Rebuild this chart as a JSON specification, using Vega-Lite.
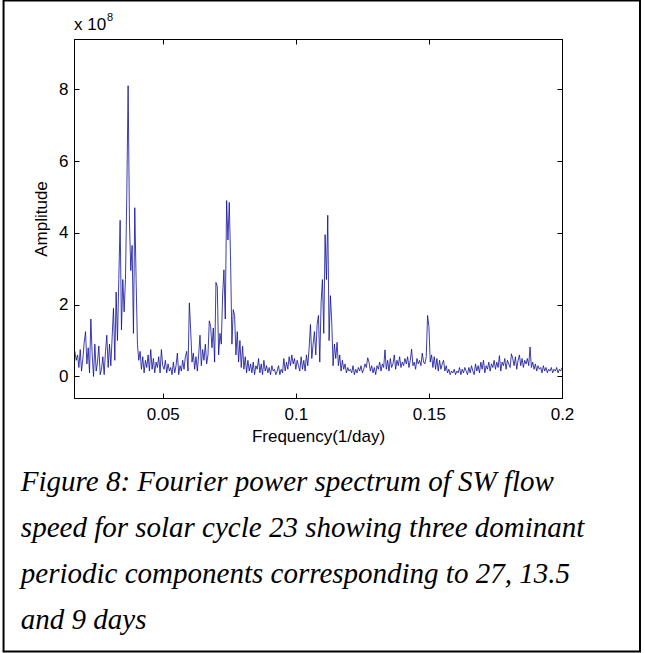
{
  "$schema": "https://vega.github.io/schema/vega-lite/v6.json",
  "autosize": "none",
  "width": 488,
  "height": 359,
  "padding": {"left": 74, "top": 39, "right": 83, "bottom": 255},
  "background": "white",
  "config": {
    "view": {"stroke": "black", "strokeWidth": 1},
    "font": "Liberation Sans"
  },
  "datasets": {
    "caption": [{"text": ["Figure 8: Fourier power spectrum of SW flow", "speed for solar cycle 23 showing three dominant", "periodic components corresponding to 27, 13.5", "and 9 days"]}],
    "spectrum": [
{"f":0.0170,"a":0.70},{"f":0.0175,"a":0.45},{"f":0.0180,"a":0.60},{"f":0.0185,"a":0.25},{"f":0.0190,"a":0.75},{"f":0.0195,"a":0.15},{"f":0.0200,"a":0.50},{"f":0.0205,"a":0.95},{"f":0.0210,"a":1.25},{"f":0.0215,"a":0.35},
{"f":0.0220,"a":0.80},{"f":0.0225,"a":0.10},{"f":0.0230,"a":1.60},{"f":0.0235,"a":0.60},{"f":0.0240,"a":0.00},{"f":0.0245,"a":0.90},{"f":0.0250,"a":0.15},{"f":0.0255,"a":0.40},{"f":0.0260,"a":0.85},{"f":0.0265,"a":0.05},
{"f":0.0270,"a":0.20},{"f":0.0275,"a":0.55},{"f":0.0280,"a":0.05},{"f":0.0285,"a":0.70},{"f":0.0290,"a":1.15},{"f":0.0295,"a":0.25},{"f":0.0300,"a":0.90},{"f":0.0305,"a":0.30},{"f":0.0310,"a":1.10},{"f":0.0315,"a":1.90},
{"f":0.0320,"a":0.45},{"f":0.0325,"a":2.35},{"f":0.0330,"a":1.00},{"f":0.0335,"a":2.70},{"f":0.0340,"a":4.35},{"f":0.0345,"a":1.30},{"f":0.0350,"a":2.70},{"f":0.0355,"a":1.80},{"f":0.0360,"a":2.70},{"f":0.0365,"a":5.05},
{"f":0.0370,"a":8.10},{"f":0.0375,"a":4.30},{"f":0.0380,"a":2.95},{"f":0.0385,"a":3.65},{"f":0.0390,"a":1.20},{"f":0.0395,"a":4.70},{"f":0.0400,"a":2.70},{"f":0.0405,"a":0.90},{"f":0.0410,"a":0.45},{"f":0.0415,"a":0.70},
{"f":0.0420,"a":0.20},{"f":0.0425,"a":0.55},{"f":0.0430,"a":0.10},{"f":0.0435,"a":0.45},{"f":0.0440,"a":0.25},{"f":0.0445,"a":0.60},{"f":0.0450,"a":0.15},{"f":0.0455,"a":0.75},{"f":0.0460,"a":0.20},{"f":0.0465,"a":0.50},
{"f":0.0470,"a":0.10},{"f":0.0475,"a":0.40},{"f":0.0480,"a":0.25},{"f":0.0485,"a":0.55},{"f":0.0490,"a":0.10},{"f":0.0495,"a":0.75},{"f":0.0500,"a":0.30},{"f":0.0505,"a":0.20},{"f":0.0510,"a":0.45},{"f":0.0515,"a":0.10},
{"f":0.0520,"a":0.35},{"f":0.0525,"a":0.15},{"f":0.0530,"a":0.25},{"f":0.0535,"a":0.05},{"f":0.0540,"a":0.40},{"f":0.0545,"a":0.10},{"f":0.0550,"a":0.30},{"f":0.0555,"a":0.65},{"f":0.0560,"a":0.05},{"f":0.0565,"a":0.30},
{"f":0.0570,"a":0.15},{"f":0.0575,"a":0.45},{"f":0.0580,"a":0.20},{"f":0.0585,"a":0.55},{"f":0.0590,"a":0.70},{"f":0.0595,"a":0.15},{"f":0.0600,"a":2.05},{"f":0.0605,"a":1.30},{"f":0.0610,"a":0.40},{"f":0.0615,"a":0.65},
{"f":0.0620,"a":0.20},{"f":0.0625,"a":0.55},{"f":0.0630,"a":0.15},{"f":0.0635,"a":0.60},{"f":0.0640,"a":1.15},{"f":0.0645,"a":0.30},{"f":0.0650,"a":0.75},{"f":0.0655,"a":0.45},{"f":0.0660,"a":0.90},{"f":0.0665,"a":0.35},
{"f":0.0670,"a":0.60},{"f":0.0675,"a":1.55},{"f":0.0680,"a":1.40},{"f":0.0685,"a":0.80},{"f":0.0690,"a":1.35},{"f":0.0695,"a":0.40},{"f":0.0700,"a":2.62},{"f":0.0705,"a":2.50},{"f":0.0710,"a":0.60},{"f":0.0715,"a":1.20},
{"f":0.0720,"a":0.90},{"f":0.0725,"a":2.27},{"f":0.0730,"a":2.97},{"f":0.0735,"a":1.60},{"f":0.0740,"a":4.90},{"f":0.0745,"a":3.80},{"f":0.0750,"a":4.85},{"f":0.0755,"a":3.20},{"f":0.0760,"a":0.90},{"f":0.0765,"a":1.86},
{"f":0.0770,"a":1.70},{"f":0.0775,"a":0.60},{"f":0.0780,"a":1.25},{"f":0.0785,"a":0.40},{"f":0.0790,"a":1.00},{"f":0.0795,"a":0.25},{"f":0.0800,"a":0.84},{"f":0.0805,"a":0.20},{"f":0.0810,"a":0.55},{"f":0.0815,"a":0.10},
{"f":0.0820,"a":0.45},{"f":0.0825,"a":0.15},{"f":0.0830,"a":0.35},{"f":0.0835,"a":0.10},{"f":0.0840,"a":0.40},{"f":0.0845,"a":0.05},{"f":0.0850,"a":0.30},{"f":0.0855,"a":0.20},{"f":0.0860,"a":0.50},{"f":0.0865,"a":0.10},
{"f":0.0870,"a":0.35},{"f":0.0875,"a":0.05},{"f":0.0880,"a":0.45},{"f":0.0885,"a":0.15},{"f":0.0890,"a":0.30},{"f":0.0895,"a":0.10},{"f":0.0900,"a":0.25},{"f":0.0905,"a":0.05},{"f":0.0910,"a":0.30},{"f":0.0915,"a":0.15},
{"f":0.0920,"a":0.20},{"f":0.0925,"a":0.05},{"f":0.0930,"a":0.15},{"f":0.0935,"a":0.30},{"f":0.0940,"a":0.05},{"f":0.0945,"a":0.20},{"f":0.0950,"a":0.10},{"f":0.0955,"a":0.50},{"f":0.0960,"a":0.15},{"f":0.0965,"a":0.40},
{"f":0.0970,"a":0.20},{"f":0.0975,"a":0.55},{"f":0.0980,"a":0.30},{"f":0.0985,"a":0.60},{"f":0.0990,"a":0.35},{"f":0.0995,"a":0.50},{"f":0.1000,"a":0.20},{"f":0.1005,"a":0.45},{"f":0.1010,"a":0.30},{"f":0.1015,"a":0.15},
{"f":0.1020,"a":0.55},{"f":0.1025,"a":0.20},{"f":0.1030,"a":0.45},{"f":0.1035,"a":0.15},{"f":0.1040,"a":0.60},{"f":0.1045,"a":0.30},{"f":0.1050,"a":0.80},{"f":0.1055,"a":1.45},{"f":0.1060,"a":0.50},{"f":0.1065,"a":0.90},
{"f":0.1070,"a":1.25},{"f":0.1075,"a":0.60},{"f":0.1080,"a":1.45},{"f":0.1085,"a":1.70},{"f":0.1090,"a":0.40},{"f":0.1095,"a":2.05},{"f":0.1100,"a":2.70},{"f":0.1105,"a":1.20},{"f":0.1110,"a":3.95},{"f":0.1115,"a":2.70},
{"f":0.1120,"a":4.49},{"f":0.1125,"a":1.00},{"f":0.1130,"a":2.25},{"f":0.1135,"a":1.50},{"f":0.1140,"a":0.30},{"f":0.1145,"a":0.90},{"f":0.1150,"a":0.50},{"f":0.1155,"a":0.95},{"f":0.1160,"a":0.30},{"f":0.1165,"a":0.60},
{"f":0.1170,"a":0.15},{"f":0.1175,"a":0.45},{"f":0.1180,"a":0.20},{"f":0.1185,"a":0.35},{"f":0.1190,"a":0.10},{"f":0.1195,"a":0.25},{"f":0.1200,"a":0.15},{"f":0.1205,"a":0.20},{"f":0.1210,"a":0.10},{"f":0.1215,"a":0.30},
{"f":0.1220,"a":0.05},{"f":0.1225,"a":0.20},{"f":0.1230,"a":0.10},{"f":0.1235,"a":0.25},{"f":0.1240,"a":0.15},{"f":0.1245,"a":0.30},{"f":0.1250,"a":0.10},{"f":0.1255,"a":0.20},{"f":0.1260,"a":0.35},{"f":0.1265,"a":0.25},
{"f":0.1270,"a":0.52},{"f":0.1275,"a":0.40},{"f":0.1280,"a":0.15},{"f":0.1285,"a":0.30},{"f":0.1290,"a":0.10},{"f":0.1295,"a":0.25},{"f":0.1300,"a":0.05},{"f":0.1305,"a":0.30},{"f":0.1310,"a":0.20},{"f":0.1315,"a":0.40},
{"f":0.1320,"a":0.15},{"f":0.1325,"a":0.35},{"f":0.1330,"a":0.25},{"f":0.1335,"a":0.74},{"f":0.1340,"a":0.20},{"f":0.1345,"a":0.45},{"f":0.1350,"a":0.15},{"f":0.1355,"a":0.50},{"f":0.1360,"a":0.25},{"f":0.1365,"a":0.35},
{"f":0.1370,"a":0.60},{"f":0.1375,"a":0.20},{"f":0.1380,"a":0.45},{"f":0.1385,"a":0.30},{"f":0.1390,"a":0.55},{"f":0.1395,"a":0.25},{"f":0.1400,"a":0.40},{"f":0.1405,"a":0.30},{"f":0.1410,"a":0.50},{"f":0.1415,"a":0.35},
{"f":0.1420,"a":0.55},{"f":0.1425,"a":0.25},{"f":0.1430,"a":0.45},{"f":0.1435,"a":0.76},{"f":0.1440,"a":0.30},{"f":0.1445,"a":0.40},{"f":0.1450,"a":0.20},{"f":0.1455,"a":0.50},{"f":0.1460,"a":0.35},{"f":0.1465,"a":0.45},
{"f":0.1470,"a":0.30},{"f":0.1475,"a":0.65},{"f":0.1480,"a":0.40},{"f":0.1485,"a":0.35},{"f":0.1490,"a":0.55},{"f":0.1495,"a":1.70},{"f":0.1500,"a":1.39},{"f":0.1505,"a":0.40},{"f":0.1510,"a":0.60},{"f":0.1515,"a":0.25},
{"f":0.1520,"a":0.55},{"f":0.1525,"a":0.20},{"f":0.1530,"a":0.50},{"f":0.1535,"a":0.15},{"f":0.1540,"a":0.45},{"f":0.1545,"a":0.20},{"f":0.1550,"a":0.35},{"f":0.1555,"a":0.45},{"f":0.1560,"a":0.15},{"f":0.1565,"a":0.30},
{"f":0.1570,"a":0.10},{"f":0.1575,"a":0.20},{"f":0.1580,"a":0.05},{"f":0.1585,"a":0.15},{"f":0.1590,"a":0.10},{"f":0.1595,"a":0.20},{"f":0.1600,"a":0.05},{"f":0.1605,"a":0.15},{"f":0.1610,"a":0.10},{"f":0.1615,"a":0.25},
{"f":0.1620,"a":0.05},{"f":0.1625,"a":0.20},{"f":0.1630,"a":0.10},{"f":0.1635,"a":0.25},{"f":0.1640,"a":0.15},{"f":0.1645,"a":0.05},{"f":0.1650,"a":0.25},{"f":0.1655,"a":0.10},{"f":0.1660,"a":0.30},{"f":0.1665,"a":0.15},
{"f":0.1670,"a":0.05},{"f":0.1675,"a":0.35},{"f":0.1680,"a":0.15},{"f":0.1685,"a":0.30},{"f":0.1690,"a":0.10},{"f":0.1695,"a":0.40},{"f":0.1700,"a":0.20},{"f":0.1705,"a":0.45},{"f":0.1710,"a":0.10},{"f":0.1715,"a":0.30},
{"f":0.1720,"a":0.20},{"f":0.1725,"a":0.40},{"f":0.1730,"a":0.15},{"f":0.1735,"a":0.35},{"f":0.1740,"a":0.25},{"f":0.1745,"a":0.45},{"f":0.1750,"a":0.20},{"f":0.1755,"a":0.40},{"f":0.1760,"a":0.25},{"f":0.1765,"a":0.58},
{"f":0.1770,"a":0.15},{"f":0.1775,"a":0.40},{"f":0.1780,"a":0.30},{"f":0.1785,"a":0.50},{"f":0.1790,"a":0.20},{"f":0.1795,"a":0.45},{"f":0.1800,"a":0.35},{"f":0.1805,"a":0.25},{"f":0.1810,"a":0.63},{"f":0.1815,"a":0.50},
{"f":0.1820,"a":0.30},{"f":0.1825,"a":0.55},{"f":0.1830,"a":0.20},{"f":0.1835,"a":0.45},{"f":0.1840,"a":0.60},{"f":0.1845,"a":0.30},{"f":0.1850,"a":0.50},{"f":0.1855,"a":0.25},{"f":0.1860,"a":0.45},{"f":0.1865,"a":0.35},
{"f":0.1870,"a":0.50},{"f":0.1875,"a":0.30},{"f":0.1880,"a":0.82},{"f":0.1885,"a":0.25},{"f":0.1890,"a":0.40},{"f":0.1895,"a":0.20},{"f":0.1900,"a":0.35},{"f":0.1905,"a":0.15},{"f":0.1910,"a":0.30},{"f":0.1915,"a":0.20},
{"f":0.1920,"a":0.25},{"f":0.1925,"a":0.10},{"f":0.1930,"a":0.30},{"f":0.1935,"a":0.15},{"f":0.1940,"a":0.25},{"f":0.1945,"a":0.10},{"f":0.1950,"a":0.20},{"f":0.1955,"a":0.15},{"f":0.1960,"a":0.25},{"f":0.1965,"a":0.10},
{"f":0.1970,"a":0.20},{"f":0.1975,"a":0.15},{"f":0.1980,"a":0.25},{"f":0.1985,"a":0.10},{"f":0.1990,"a":0.20},{"f":0.1995,"a":0.15},{"f":0.2000,"a":0.25}
    ]
  },
  "layer": [
    {
      "data": {"name": "spectrum"},
      "mark": {"type": "line", "color": "#0c0c9c", "strokeWidth": 0.8, "clip": true},
      "encoding": {
        "x": {"field": "f", "type": "quantitative", "scale": {"domain": [0.016667, 0.2], "nice": false, "zero": false},
          "axis": {"values": [0.05, 0.1, 0.15, 0.2], "format": "~g", "grid": false, "tickSize": -5, "tickColor": "black", "domainColor": "black",
            "labelFont": "Liberation Sans", "labelFontSize": 17, "labelColor": "black", "labelPadding": 13, "labelFlush": false, "labelOverlap": false,
            "title": "Frequency(1/day)", "titleFont": "Liberation Sans", "titleFontSize": 17, "titleFontWeight": "normal", "titleColor": "black", "titlePadding": 6}},
        "y": {"field": "a", "type": "quantitative", "scale": {"domain": [-0.6, 9.4], "nice": false, "zero": false},
          "axis": {"values": [0, 2, 4, 6, 8], "format": "d", "grid": false, "tickSize": -5, "tickColor": "black", "domainColor": "black",
            "labelFont": "Liberation Sans", "labelFontSize": 17, "labelColor": "black", "labelPadding": 11, "labelFlush": false, "labelOverlap": false,
            "title": "Amplitude", "titleFont": "Liberation Sans", "titleFontSize": 17, "titleFontWeight": "normal", "titleColor": "black", "titlePadding": 8}}
      }
    },
    {
      "data": {"values": [{}]},
      "mark": {"type": "text", "text": "x 10", "align": "left", "baseline": "alphabetic", "dy": -9, "fontSize": 17, "font": "Liberation Sans", "color": "black"},
      "encoding": {
        "x": {"datum": 0.016667, "type": "quantitative",
          "axis": {"orient": "top", "values": [0.05, 0.1, 0.15, 0.2], "labels": false, "title": null, "grid": false, "tickSize": -5, "tickColor": "black", "domainColor": "black"}},
        "y": {"datum": 9.4, "type": "quantitative",
          "axis": {"orient": "right", "values": [0, 2, 4, 6, 8], "labels": false, "title": null, "grid": false, "tickSize": -5, "tickColor": "black", "domainColor": "black"}}
      }
    },
    {
      "data": {"values": [{}]},
      "mark": {"type": "text", "text": "8", "align": "left", "baseline": "alphabetic", "dx": 33, "dy": -18, "fontSize": 11, "font": "Liberation Sans", "color": "black"},
      "encoding": {
        "x": {"datum": 0.016667, "type": "quantitative", "axis": null},
        "y": {"datum": 9.4, "type": "quantitative", "axis": null}
      }
    },
    {
      "data": {"name": "caption"},
      "mark": {"type": "text", "align": "left", "baseline": "alphabetic", "font": "Liberation Serif", "fontStyle": "italic", "fontSize": 29, "lineHeight": 46, "color": "black", "clip": false},
      "encoding": {
        "text": {"field": "text"},
        "x": {"datum": -0.0033, "type": "quantitative", "axis": null},
        "y": {"datum": -3.2, "type": "quantitative", "axis": null}
      }
    },
    {
      "data": {"values": [{}]},
      "mark": {"type": "rect", "filled": false, "stroke": "black", "strokeWidth": 2, "clip": false},
      "encoding": {
        "x": {"datum": -0.0098, "type": "quantitative", "axis": null},
        "x2": {"datum": 0.2293},
        "y": {"datum": 10.47, "type": "quantitative", "axis": null},
        "y2": {"datum": -7.66}
      }
    }
  ],
  "resolve": {"axis": {"x": "independent", "y": "independent"}}
}
